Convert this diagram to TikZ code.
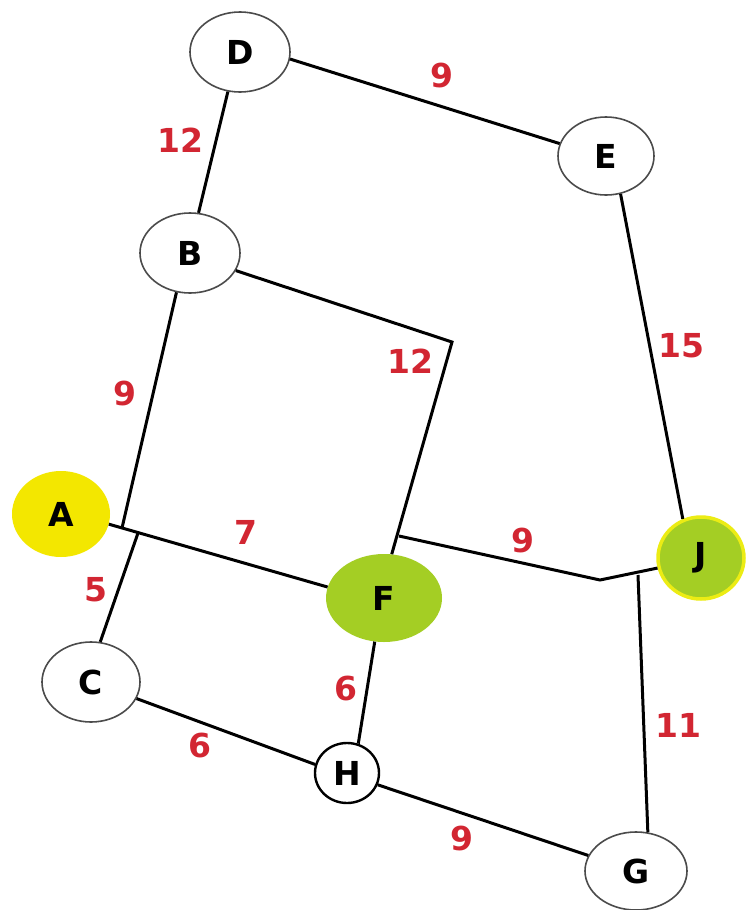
\documentclass[tikz,border=0pt]{standalone}
\usepackage{fontspec}
\setmainfont{DejaVu Sans}
\usetikzlibrary{shapes.geometric}
\definecolor{wred}{RGB}{210,38,50}
\definecolor{ayellow}{RGB}{243,231,0}
\definecolor{fgreen}{RGB}{164,206,36}
\definecolor{jborder}{RGB}{236,236,20}
\definecolor{nodegray}{RGB}{75,75,75}
\tikzset{
  vtx/.style={ellipse, inner sep=0pt, font=\fontsize{33}{33}\selectfont\bfseries, text=black},
  plain/.style={vtx, draw=nodegray, line width=1.6pt, fill=white},
  edge/.style={draw=black, line width=3pt, line join=miter},
  wt/.style={font=\fontsize{33}{33}\selectfont\bfseries, text=wred, inner sep=0pt}
}
\begin{document}
\begin{tikzpicture}[x=1pt, y=-1pt]
\useasboundingbox (0,0) rectangle (745,910);
\fill[white] (0,0) rectangle (745,910);
% nodes
\node[plain, minimum width=100pt, minimum height=80pt] (D) at (240,52) {D};
\node[plain, minimum width=96pt, minimum height=78pt] (E) at (606,156) {E};
\node[plain, minimum width=100pt, minimum height=80pt] (B) at (190,253) {B};
\node[vtx, fill=ayellow, minimum width=98pt, minimum height=86pt] (A) at (61,514) {A};
\node[vtx, fill=fgreen, minimum width=116pt, minimum height=88pt] (F) at (384,598) {F};
\node[vtx, fill=fgreen, draw=jborder, line width=3.5pt, minimum width=86pt, minimum height=82pt] (J) at (701,558) {J};
\node[plain, minimum width=98pt, minimum height=80pt] (C) at (91,682) {C};
\node[vtx, draw=black, line width=2.4pt, fill=white, minimum width=64pt, minimum height=60pt] (H) at (347,773) {H};
\node[plain, minimum width=102pt, minimum height=78pt] (G) at (636,871) {G};
% junction coordinates
\coordinate (cBF) at (452,342);
\coordinate (jF) at (399,536);
\coordinate (cFJ) at (600,580);
\coordinate (jJ) at (638,575);
\coordinate (jA1) at (122,528);
\coordinate (jA2) at (138,533);
% edges
\draw[edge] (D.-107) -- (B.78);
\draw[edge] (D.-8) -- (E.165);
\draw[edge] (E.-69) -- (J.115);
\draw[edge] (B.-21) -- (cBF) -- (F.80);
\draw[edge] (jF) -- (cFJ) -- (J.-167);
\draw[edge] (jJ) -- (G.73);
\draw[edge] (B.-109) -- (jA1);
\draw[edge] (jA2) -- (C.77);
\draw[edge] (A.-12) -- (F.169);
\draw[edge] (C.-20) -- (H.165);
\draw[edge] (F.-102) -- (H.69);
\draw[edge] (H.-21) -- (G.162);
% weights
\node[wt] (w1) at (442,76) {9};
\node[wt] (w2) at (180,140) {12};
\node[wt] (w3) at (681,346) {15};
\node[wt] (w4) at (410,361) {12};
\node[wt] (w5) at (125,393) {9};
\node[wt] (w6) at (246,532) {7};
\node[wt] (w7) at (523,540) {9};
\node[wt] (w8) at (96,590) {5};
\node[wt] (w9) at (346,688) {6};
\node[wt] (w10) at (678,725) {11};
\node[wt] (w11) at (200,745) {6};
\node[wt] (w12) at (462,838) {9};
\end{tikzpicture}
\end{document}
